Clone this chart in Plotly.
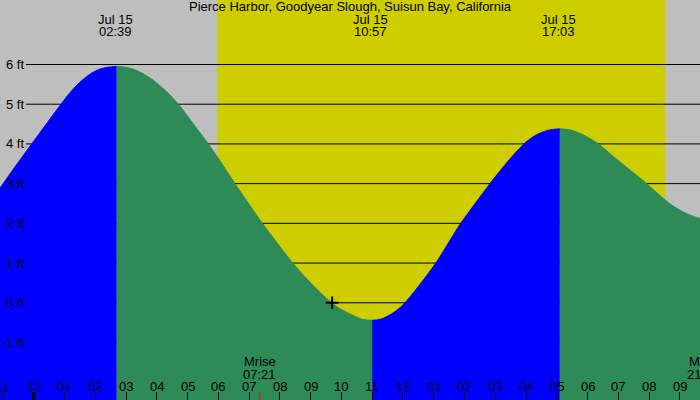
import plotly.graph_objects as go

# ---- data (hours since 00:00 Jul 15, heights in ft) ----
rise1_t = [-1.10, -0.60, -0.065, 0.40, 0.887, 1.20, 1.50, 1.80, 2.10, 2.40, 2.70]
rise1_h = [2.88, 3.43, 4.00, 4.49, 5.00, 5.31, 5.55, 5.74, 5.87, 5.93, 5.95]

fall1_t = [2.70, 3.00, 3.40, 3.78, 4.20, 4.70, 5.20, 5.674, 6.10, 6.54, 7.00, 7.43,
           7.90, 8.417, 9.00, 9.685, 10.00, 10.387, 10.70, 11.00]
fall1_h = [5.95, 5.93, 5.83, 5.66, 5.40, 5.00, 4.49, 4.00, 3.52, 3.00, 2.48, 2.00,
           1.52, 1.00, 0.50, 0.00, -0.17, -0.32, -0.42, -0.44]

rise2_t = [11.00, 11.25, 11.50, 11.80, 12.067, 12.55, 13.07, 13.53, 13.877, 14.35,
           14.83, 15.40, 15.935, 16.30, 16.70, 17.10]
rise2_h = [-0.44, -0.42, -0.34, -0.19, 0.00, 0.46, 1.00, 1.57, 2.00, 2.50,
           3.00, 3.55, 4.00, 4.21, 4.34, 4.38]

fall2_t = [17.10, 17.45, 17.85, 18.35, 18.80, 19.35, 19.92, 20.30, 20.68, 21.20, 21.66]
fall2_h = [4.38, 4.35, 4.23, 4.00, 3.71, 3.36, 3.00, 2.74, 2.49, 2.25, 2.12]

extreme_t = [2.65, 10.95, 17.05]
extreme_date = ["Jul 15", "Jul 15", "Jul 15"]
extreme_time = ["02:39", "10:57", "17:03"]

moon_t = [7.35, 21.78]
moon_name = ["Mrise", "Mset"]
moon_time = ["07:21", "21:47"]

sunrise_t = 5.967
sunset_t = 20.53

now_t = 9.70
now_h = 0.0

hour_ticks = [-1, 0, 1, 2, 3, 4, 5, 6, 7, 8, 9, 10, 11, 12, 13, 14, 15, 16, 17, 18, 19, 20, 21]
hour_labels = ["11", "12", "01", "02", "03", "04", "05", "06", "07", "08", "09", "10",
               "11", "12", "01", "02", "03", "04", "05", "06", "07", "08", "09"]

levels = [-1, 0, 1, 2, 3, 4, 5, 6]
level_labels = ["-1 ft", "0 ft", "1 ft", "2 ft", "3 ft", "4 ft", "5 ft", "6 ft"]

title = "Pierce Harbor, Goodyear Slough, Suisun Bay, California"

X_RANGE = [-1.095, 21.655]
Y_RANGE = [-2.448, 7.624]

BLUE = "#0000FF"
GREEN = "#2E8B57"
GRAY = "#BEBEBE"
YELLOW = "#CDCD00"
FONT = "Liberation Sans, Arial, sans-serif"
FS = 13

fig = go.Figure()

segments = [(rise1_t, rise1_h, BLUE), (fall1_t, fall1_h, GREEN),
            (rise2_t, rise2_h, BLUE), (fall2_t, fall2_h, GREEN)]
for t, h, c in segments:
    fig.add_trace(go.Scatter(x=[t[0], t[-1]], y=[-3, -3], mode="lines",
                             line=dict(width=0, color=c), hoverinfo="skip", showlegend=False))
    fig.add_trace(go.Scatter(x=t, y=h, mode="lines", fill="tonexty", fillcolor=c,
                             line=dict(width=1, color=c, shape="spline", smoothing=1),
                             hoverinfo="skip", showlegend=False))

fig.add_trace(go.Scatter(x=[now_t], y=[now_h], mode="markers",
                         marker=dict(symbol="cross-thin", size=9,
                                     line=dict(width=2, color="black")),
                         hoverinfo="skip", showlegend=False))

shapes = [dict(type="rect", xref="x", yref="paper", x0=sunrise_t, x1=sunset_t, y0=0, y1=1,
               fillcolor=YELLOW, line=dict(width=0), layer="below")]
for lv in levels:
    shapes.append(dict(type="line", xref="paper", yref="y", x0=26 / 700, x1=1, y0=lv, y1=lv,
                       line=dict(color="black", width=1), layer="below"))
shapes.append(dict(type="line", xref="x", yref="paper", x0=0, x1=0, y0=0, y1=8 / 400,
                   line=dict(color="black", width=3), layer="above"))
shapes.append(dict(type="line", xref="x", yref="paper", x0=moon_t[0], x1=moon_t[0], y0=0, y1=8 / 400,
                   line=dict(color="red", width=1), layer="above"))


def ann(text, x, ypix, xref="x"):
    return dict(text=text, x=x, y=1 - ypix / 400, xref=xref, yref="paper", showarrow=False,
                xanchor="center", yanchor="middle", font=dict(size=FS, color="black", family=FONT))


def xpaper(t):
    return (t - X_RANGE[0]) / (X_RANGE[1] - X_RANGE[0])


annotations = [ann(title, 0.5, 7, xref="paper")]
for t, d, tm in zip(extreme_t, extreme_date, extreme_time):
    annotations.append(ann(d, t, 19.5))
    annotations.append(ann(tm, t, 31.5))
for t, n, tm in zip(moon_t, moon_name, moon_time):
    annotations.append(ann(n, xpaper(t), 361.5, xref="paper"))
    annotations.append(ann(tm, xpaper(t), 374, xref="paper"))
for t, lab in zip(hour_ticks, hour_labels):
    annotations.append(ann(lab, xpaper(t), 386.5, xref="paper"))

fig.update_layout(
    width=700, height=400,
    margin=dict(l=0, r=0, t=0, b=0, pad=0),
    paper_bgcolor=GRAY, plot_bgcolor=GRAY,
    shapes=shapes, annotations=annotations,
    showlegend=False,
    font=dict(family=FONT, size=FS, color="black"),
    xaxis=dict(range=X_RANGE, showgrid=False, zeroline=False, showline=False,
               tickmode="array", tickvals=hour_ticks, showticklabels=False,
               ticks="inside", ticklen=8, tickwidth=1, tickcolor="black",
               fixedrange=True),
    yaxis=dict(range=Y_RANGE, showgrid=False, zeroline=False, showline=False,
               anchor="free", position=25 / 700, side="left",
               tickmode="array", tickvals=levels, ticktext=level_labels, ticks="",
               ticklabelstandoff=1,
               tickfont=dict(size=FS, color="black", family=FONT), fixedrange=True),
)

fig.write_html("out.html")
